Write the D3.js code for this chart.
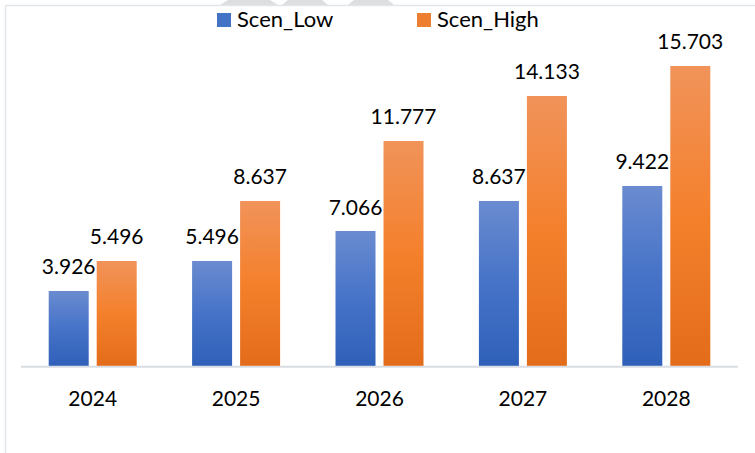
<!DOCTYPE html>
<html>
<head>
<meta charset="utf-8">
<script src="https://cdn.jsdelivr.net/npm/d3@7/dist/d3.min.js"></script>
<style>
  html, body { margin: 0; padding: 0; background: #fff; }
  svg { display: block; }
  text { font-family: Lato, "Open Sans", sans-serif; fill: #000; }
</style>
</head>
<body>
<svg id="chart" width="755" height="453"></svg>
<script>
const years = ["2024", "2025", "2026", "2027", "2028"];
const series = ["Scen_Low", "Scen_High"];
const scenLow = [3.926, 5.496, 7.066, 8.637, 9.422];
const scenHigh = [5.496, 8.637, 11.777, 14.133, 15.703];
const seriesValues = [scenLow, scenHigh];

const W = 755, H = 453;
const svg = d3.select("#chart");
const defs = svg.append("defs");

const grads = [
  { id: "gLow", stops: ["#6a8bd0", "#4673c8", "#2f60b9"] },
  { id: "gHigh", stops: ["#f1935a", "#f4802c", "#e36c1a"] }
];
grads.forEach(g => {
  const lg = defs.append("linearGradient").attr("id", g.id)
    .attr("x1", 0).attr("y1", 0).attr("x2", 0).attr("y2", 1);
  g.stops.forEach((c, i) => lg.append("stop")
    .attr("offset", (i / (g.stops.length - 1)) * 100 + "%")
    .attr("stop-color", c));
});
const legendColors = ["#4472c4", "#ed7d31"];

// watermark fragments at top
const wm = [[[220,5],[228,0],[270,0],[278,5]], [[282,5],[288,0],[322,0],[328,5]], [[348,5],[354,0],[388,0],[394,5]]];
svg.selectAll("polygon.wm").data(wm).enter().append("polygon")
  .attr("class", "wm")
  .attr("points", d => d.map(p => p.join(",")).join(" "))
  .attr("fill", "#dedede");

// frame
svg.append("line").attr("x1", 5.5).attr("x2", W).attr("y1", 5.5).attr("y2", 5.5)
  .attr("stroke", "#e2e5ea").attr("stroke-width", 1.5);
svg.append("line").attr("x1", 5.5).attr("x2", 5.5).attr("y1", 5.5).attr("y2", H)
  .attr("stroke", "#e2e5ea").attr("stroke-width", 1.5);

const x0 = d3.scaleBand().domain(years).range([21, 738]).padding(0);
const bw = x0.bandwidth();
const x1 = d3.scaleBand().domain(series).range([bw / 2 - 44, bw / 2 + 44])
  .paddingInner(1 / 6).paddingOuter(0);
const y = d3.scaleLinear().domain([0, 18]).range([366, 22.1]);

const rows = years.map((yr, i) => ({
  year: yr,
  vals: series.map((s, j) => ({ s, j, v: seriesValues[j][i] }))
}));

const g = svg.selectAll("g.grp").data(rows).enter().append("g")
  .attr("class", "grp")
  .attr("transform", d => `translate(${x0(d.year)},0)`);

g.selectAll("rect").data(d => d.vals).enter().append("rect")
  .attr("x", d => x1(d.s))
  .attr("width", x1.bandwidth())
  .attr("y", d => y(d.v))
  .attr("height", d => y(0) - y(d.v))
  .attr("fill", d => `url(#${grads[d.j].id})`);

g.selectAll("text.val").data(d => d.vals).enter().append("text")
  .attr("class", "val")
  .attr("x", d => x1(d.s) + x1.bandwidth() / 2)
  .attr("y", d => y(d.v) - 16.5)
  .attr("text-anchor", "middle")
  .attr("font-size", 21)
  .text(d => d.v.toFixed(3));

// axis
const xAxis = d3.axisBottom(x0).tickSize(0).tickPadding(0);
const ax = svg.append("g").attr("transform", `translate(0,${y(0)})`).call(xAxis);
ax.select(".domain").attr("stroke", "#d9dde2").attr("stroke-width", 2)
  .attr("d", `M21,0.8H738`);
ax.selectAll(".tick text")
  .attr("font-size", 21)
  .attr("font-family", "Lato, 'Open Sans', sans-serif")
  .attr("fill", "#000")
  .attr("dy", 0)
  .attr("y", 40);

// legend
const legendX = [217, 417];
const lg = svg.selectAll("g.leg").data(series).enter().append("g")
  .attr("class", "leg")
  .attr("transform", (d, i) => `translate(${legendX[i]},13)`);
lg.append("rect").attr("width", 14).attr("height", 14)
  .attr("fill", (d, i) => legendColors[i]);
lg.append("text").attr("x", 20).attr("y", 14).attr("font-size", 22).text(d => d);
</script>
</body>
</html>
